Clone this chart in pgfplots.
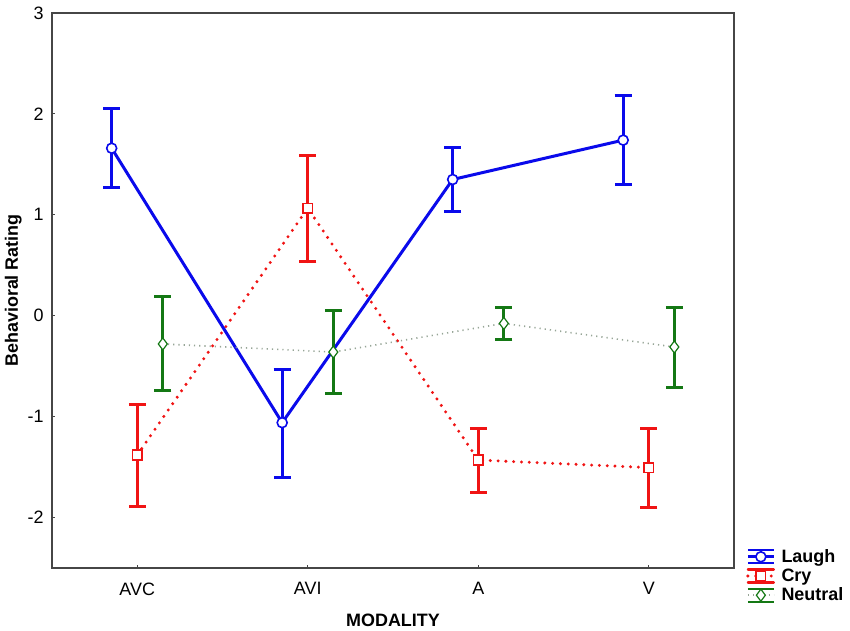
\documentclass[border=0pt]{standalone}
\usepackage{pgfplots}
\pgfplotsset{compat=1.18}
\usepackage{fontspec}
\setmainfont{Liberation Sans}
\definecolor{cBlue}{RGB}{10,10,235}
\definecolor{cRed}{RGB}{240,20,20}
\definecolor{cGreen}{RGB}{20,120,20}
\definecolor{cGray}{RGB}{150,165,150}
\definecolor{cAxis}{RGB}{70,70,70}
\pgfplotsset{
  errlegend/.style={
    legend image code/.code={
      \draw[#1, solid, mark=none, line width=2.2bp] (0bp,6.5bp) -- (26bp,6.5bp);
      \draw[#1, solid, mark=none, line width=2.2bp] (0bp,-6.5bp) -- (26bp,-6.5bp);
      \draw[#1, solid, mark=none, line width=2.2bp] (13bp,-6.5bp) -- (13bp,6.5bp);
      \draw[##1, mark=none] (0bp,0bp) -- (26bp,0bp);
      \draw[##1, draw=none] plot coordinates {(13bp,0bp)};
    }
  }
}
\begin{document}
\begin{tikzpicture}
\begin{axis}[
  scale only axis,
  width=682bp, height=555bp,
  xmin=0.5, xmax=4.5,
  ymin=-2.5, ymax=3,
  xtick={1,2,3,4},
  xticklabels={AVC,AVI,A,V},
  ytick={-2,-1,0,1,2,3},
  xtick pos=bottom, ytick pos=left,
  tick align=inside,
  major tick length=3bp,
  axis line style={cAxis, line width=1.3bp},
  every tick/.style={cAxis, line width=1bp},
  /pgf/number format/assume math mode=true,
  tick label style={font=\fontsize{18}{21}\selectfont},
  yticklabel style={xshift=-5bp},
  xticklabel style={yshift=-11bp},
  xlabel={\textbf{MODALITY}},
  ylabel={\textbf{Behavioral Rating}},
  label style={font=\fontsize{18}{21}\selectfont},
  xlabel style={yshift=-12bp},
  ylabel style={yshift=-1bp},
  legend style={draw=none, fill=none, at={(axis description cs:1,0)}, anchor=west,
     xshift=12bp, yshift=-8bp, font=\bfseries\fontsize{18}{20}\selectfont,
     row sep=4bp, inner sep=0pt,
     nodes={inner xsep=6bp, inner ysep=0pt}},
  legend cell align=left,
  error bars/y dir=both,
  error bars/y explicit,
  error bars/error bar style={solid, line width=3bp},
  error bars/error mark options={rotate=90, mark size=8.5bp, line width=3bp, solid},
  clip=false,
]
\coordinate (SW) at (rel axis cs:0,0);
\coordinate (NE) at (rel axis cs:1,1);

% Laugh
\addplot[cBlue, line width=3bp, mark=*, mark size=5bp,
  mark options={solid, fill=white, line width=1.6bp},
  errlegend=cBlue]
  coordinates {
  (0.85,1.66) += (0,0.39) -= (0,0.39)
  (1.85,-1.06) += (0,0.53) -= (0,0.54)
  (2.85,1.35) += (0,0.32) -= (0,0.32)
  (3.85,1.74) += (0,0.44) -= (0,0.44)
  };
\addlegendentry{Laugh}

% Cry
\addplot[cRed, line width=3.3bp, line cap=round, dash pattern=on 0bp off 7.8bp,
  mark=square*, mark size=4.8bp,
  mark options={solid, fill=white, line width=1.6bp},
  errlegend=cRed]
  coordinates {
  (1,-1.38) += (0,0.50) -= (0,0.51)
  (2,1.066) += (0,0.52) -= (0,0.53)
  (3,-1.43) += (0,0.31) -= (0,0.32)
  (4,-1.505) += (0,0.385) -= (0,0.395)
  };
\addlegendentry{Cry}

% Neutral
\addplot[cGray, line width=1.6bp, dash pattern=on 1.2bp off 4bp,
  mark=diamond*, mark size=6bp,
  mark options={solid, draw=cGreen, fill=white, line width=1.2bp},
  error bars/error bar style={solid, line width=3bp, draw=cGreen},
  error bars/error mark options={rotate=90, mark size=8.5bp, line width=3bp, solid, draw=cGreen},
  errlegend=cGreen]
  coordinates {
  (1.15,-0.28) += (0,0.47) -= (0,0.46)
  (2.15,-0.36) += (0,0.41) -= (0,0.41)
  (3.15,-0.076) += (0,0.156) -= (0,0.156)
  (4.15,-0.31) += (0,0.39) -= (0,0.40)
  };
\addlegendentry{Neutral}
\end{axis}
\pgfresetboundingbox
\path ([shift={(-52bp,-63bp)}]SW) rectangle ([shift={(116bp,13bp)}]NE);
\end{tikzpicture}
\end{document}
